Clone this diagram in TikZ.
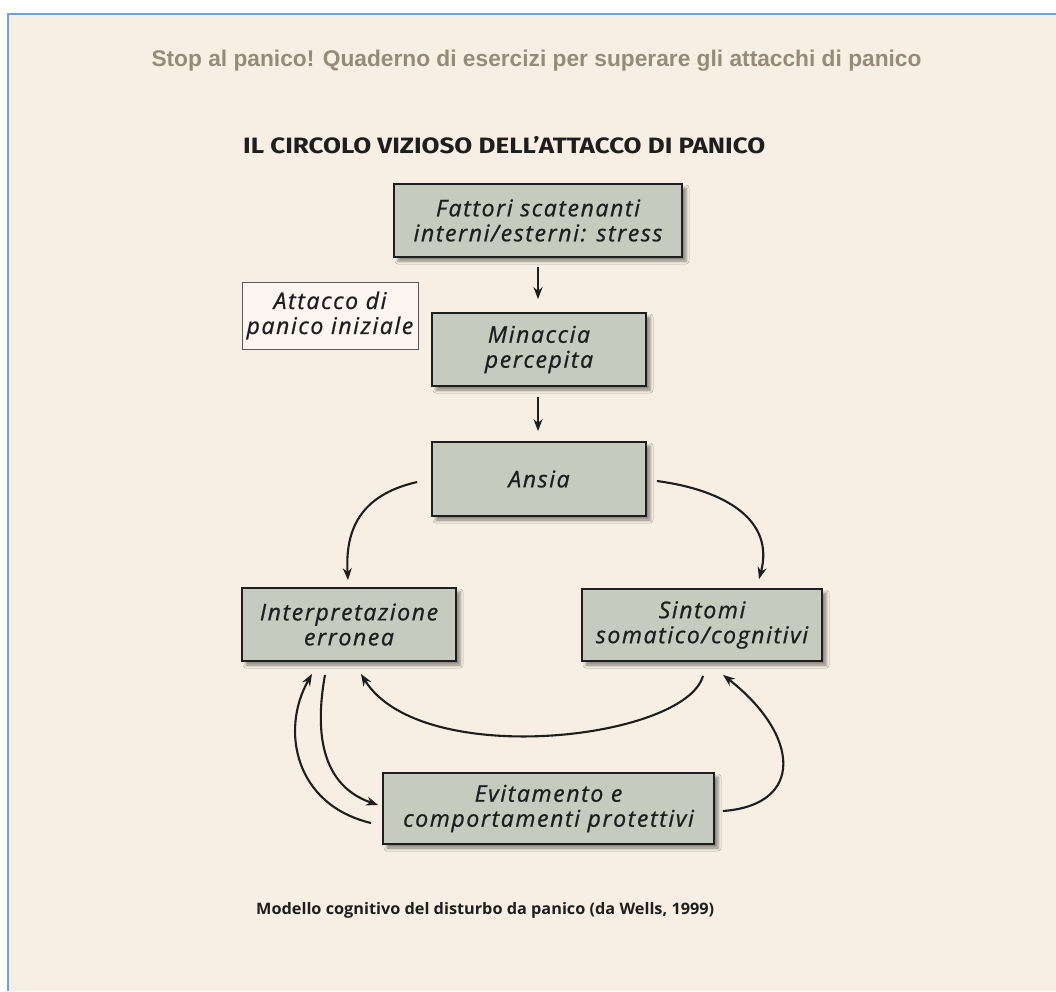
\documentclass[tikz,border=0pt]{standalone}
\usepackage{fontspec}
\usepackage{graphicx}
\setmainfont{Open Sans}
\newfontfamily\boxfont[LetterSpace=7,FakeBold=0.8]{Open Sans}
\newfontfamily\headfont{Liberation Sans}
\newfontfamily\titlefont{Fira Sans}
\newfontfamily\capfont{Open Sans}
\usetikzlibrary{arrows.meta,shadows.blur,calc}
\definecolor{bg}{HTML}{F7EFE3}
\definecolor{boxfill}{HTML}{C6CABF}
\definecolor{frameblue}{HTML}{6EA3DA}
\definecolor{headgray}{HTML}{968A7B}
\definecolor{ink}{HTML}{1E1E1E}
\tikzset{
  diagbox/.style={draw=ink, line width=1.8pt, fill=boxfill, inner sep=0pt, align=center,
    text=ink, font=\boxfont\itshape\fontsize{23}{25}\selectfont,
    blur shadow={shadow xshift=4pt, shadow yshift=-4pt, shadow blur radius=3pt, shadow opacity=45}},
  notebox/.style={draw=black!65, line width=0.9pt, fill=white!45!bg, inner sep=0pt, align=center,
    text=ink, font=\boxfont\itshape\fontsize{23}{25}\selectfont},
  conn/.style={draw=ink, line width=2.1pt, -{Stealth[length=12pt,width=9pt]}}
}
\begin{document}
\begin{tikzpicture}[x=1pt,y=-1pt]
\useasboundingbox (0,0) rectangle (1056,991);
\fill[white] (0,0) rectangle (1056,991);
\fill[bg] (7,13) rectangle (1056,991);
\draw[frameblue, line width=2pt] (7.5,991) -- (7.5,13.5) -- (1056,13.5);

\node[anchor=base, text=headgray, inner sep=0pt] (head) at (536.5,66)
  {\resizebox{770pt}{!}{\headfont\bfseries\fontsize{17.5}{20}\selectfont Stop al panico! Quaderno di esercizi per superare gli attacchi di panico}};

\node[anchor=base west, text=ink, inner sep=0pt] (title) at (243,153)
  {\resizebox{522pt}{17pt}{\titlefont\bfseries\fontsize{24}{28}\selectfont IL CIRCOLO VIZIOSO DELL’ATTACCO DI PANICO}};

\node[diagbox, minimum width=288pt, minimum height=73pt] (fatt) at (538,220.5) {Fattori scatenanti\\interni/esterni: stress};
\node[notebox, minimum width=176pt, minimum height=67pt] (att) at (330,315.5) {Attacco di\\panico iniziale};
\node[diagbox, minimum width=214pt, minimum height=73pt] (min) at (539,349.5) {Minaccia\\percepita};
\node[diagbox, minimum width=214pt, minimum height=74pt] (ansia) at (539,479) {Ansia};
\node[diagbox, minimum width=214pt, minimum height=73pt] (interp) at (349,624.5) {Interpretazione\\erronea};
\node[diagbox, minimum width=240pt, minimum height=72pt] (sint) at (702,625) {Sintomi\\somatico/cognitivi};
\node[diagbox, minimum width=331pt, minimum height=71pt] (evit) at (548.5,808.5) {Evitamento e\\comportamenti protettivi};

\node[anchor=base west, text=ink, inner sep=0pt] (cap) at (256,914)
  {\resizebox{458pt}{12pt}{\capfont\bfseries\fontsize{16}{18}\selectfont Modello cognitivo del disturbo da panico (da Wells, 1999)}};

% straight arrows
\draw[conn] ($(fatt.south)+(0,9)$) -- ($(min.north)+(-1,-13)$);
\draw[conn] ($(min.south)+(-1,10)$) -- ($(ansia.north)+(-1,-10)$);

% curved arrows
\draw[conn] ($(ansia.west)+(-14,3)$) .. controls (360,495) and (345,530) .. ($(interp.north)+(-1,-7)$);
\draw[conn] ($(ansia.east)+(10,2)$) .. controls (725,490) and (775,520) .. ($(sint.north)+(57,-9)$);
\draw[conn] ($(sint.south)+(1,14)$) .. controls (685,740) and (420,770) .. ($(interp.south)+(12,12)$);
\draw[conn] ($(interp.south)+(-24,13)$) .. controls (315,730) and (320,785) .. ($(evit.west)+(-4,-3.5)$);
\draw[conn] ($(evit.west)+(-11,14.5)$) .. controls (295,805) and (280,730) .. ($(interp.south)+(-37,12)$);
\draw[conn] ($(evit.east)+(8,2.5)$) .. controls (805,805) and (800,735) .. ($(sint.south)+(21,13)$);
\end{tikzpicture}
\end{document}
